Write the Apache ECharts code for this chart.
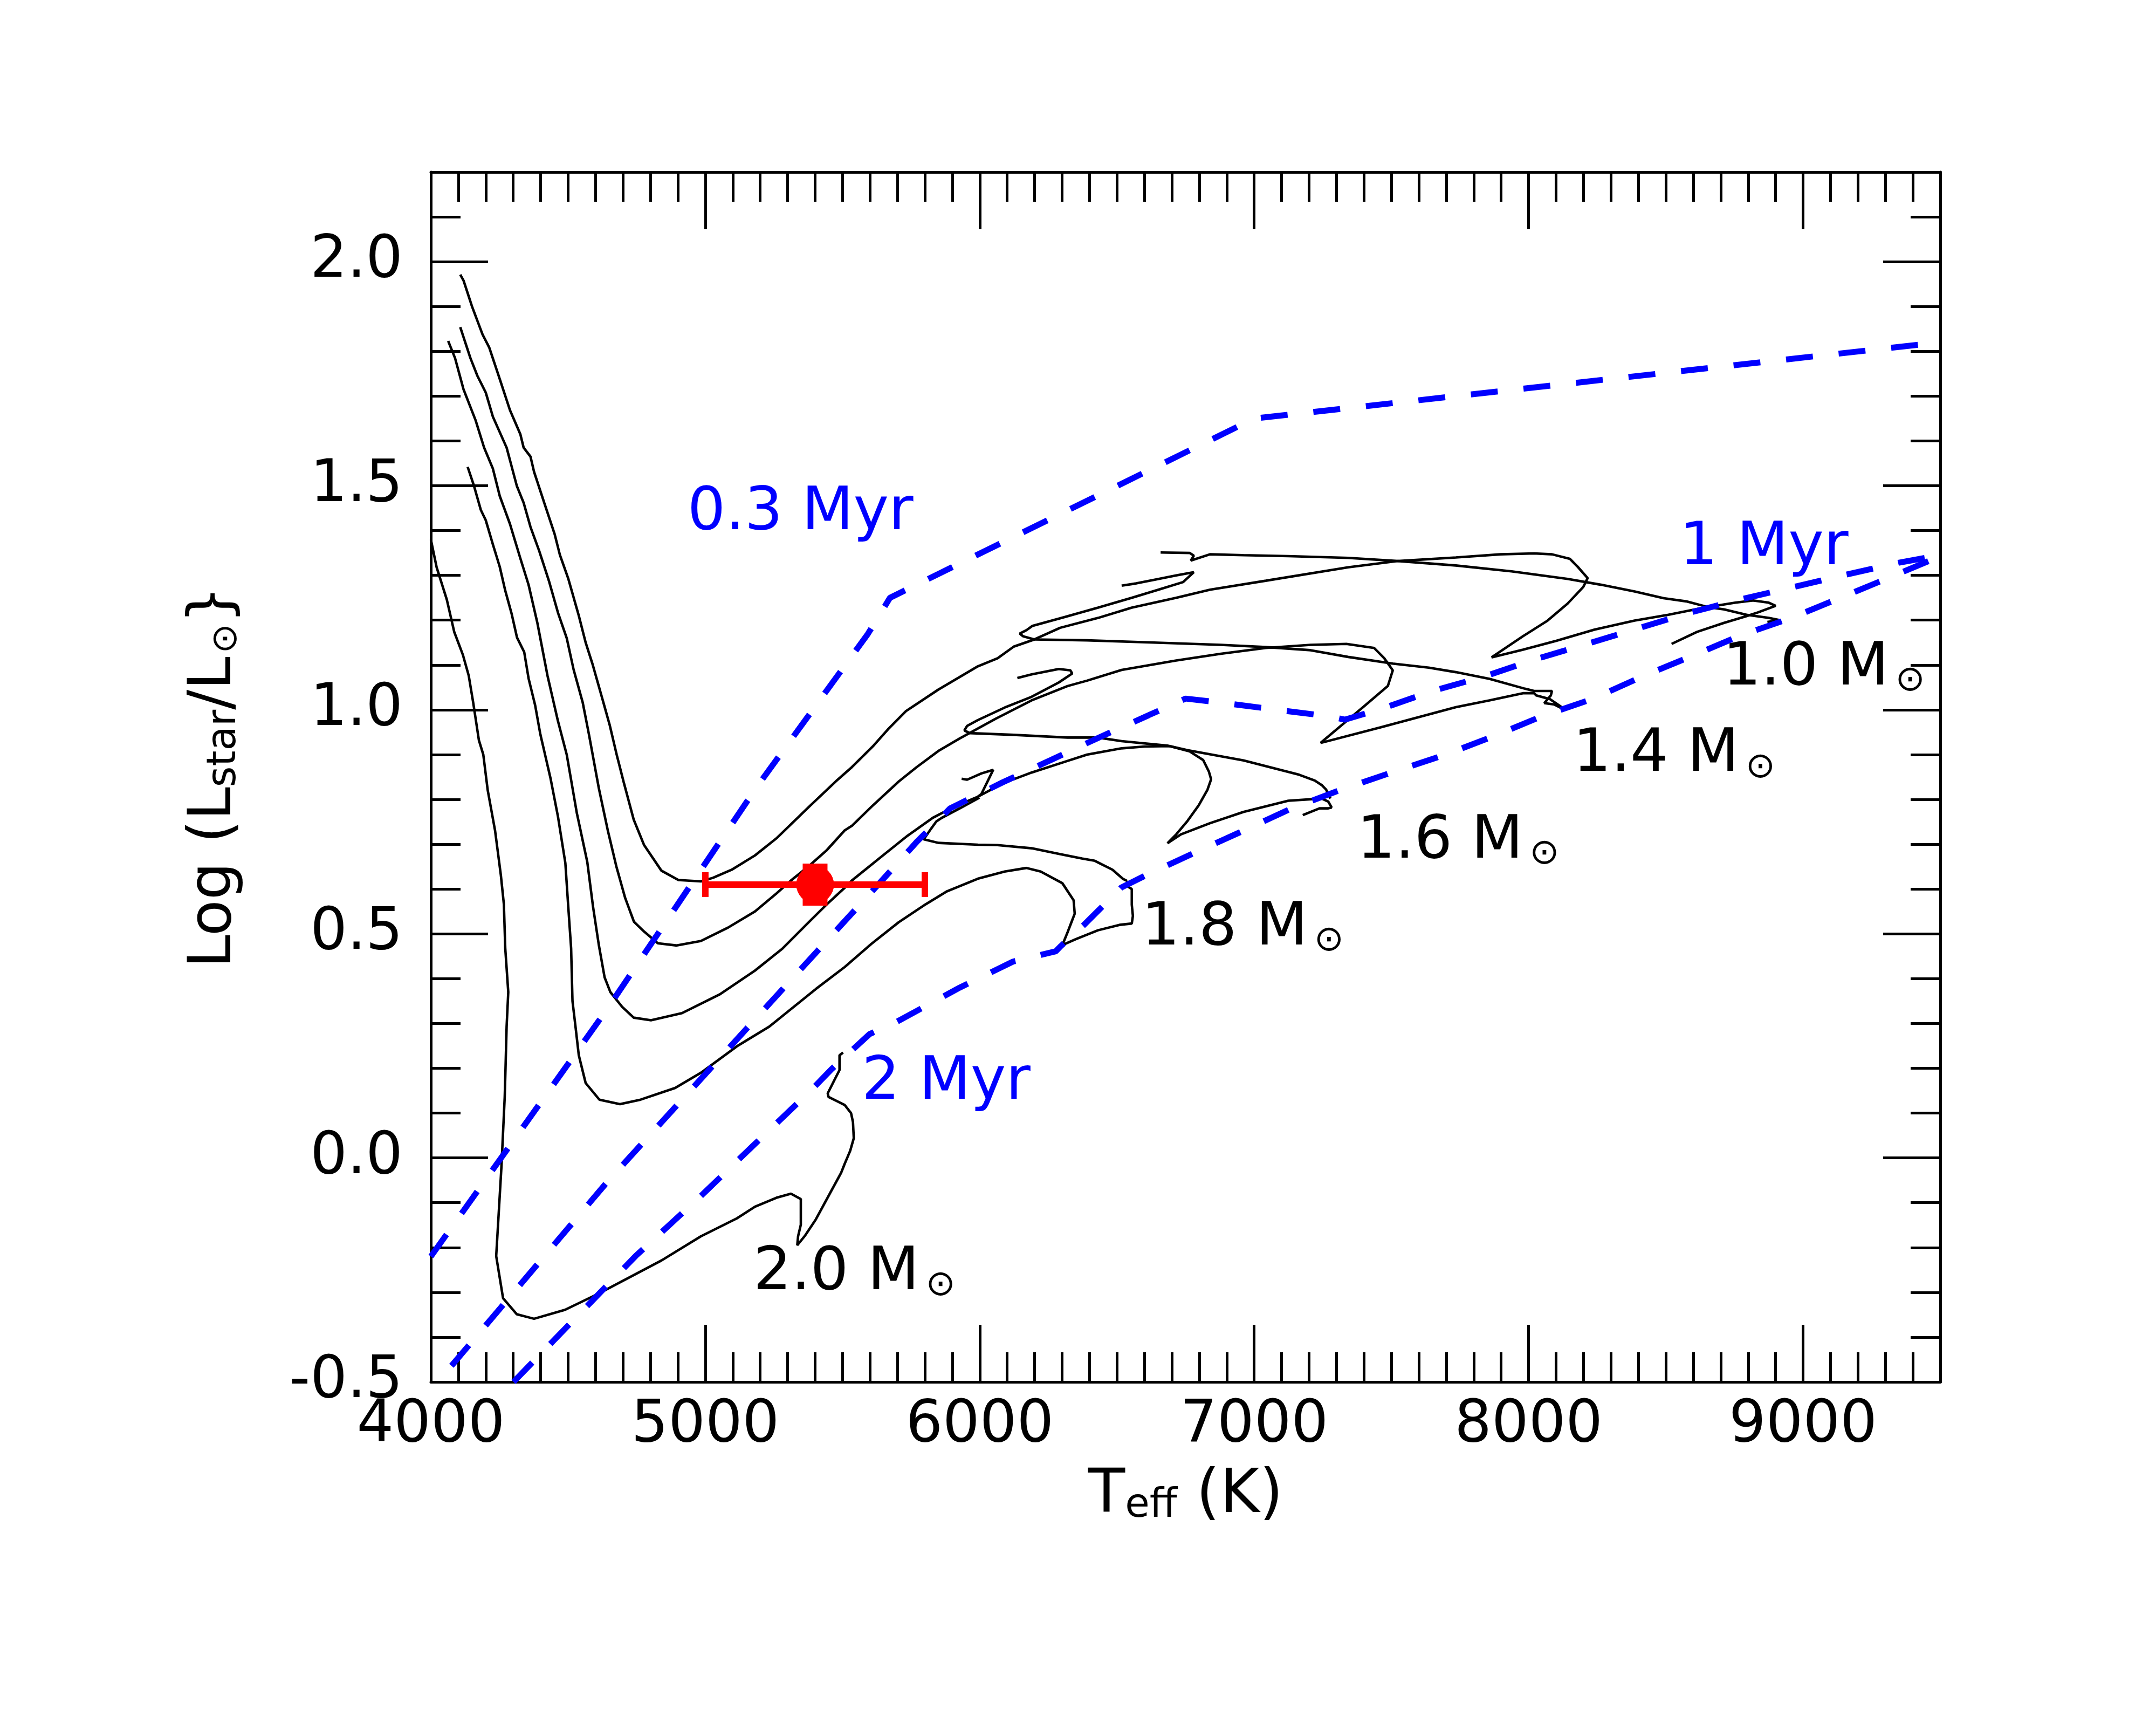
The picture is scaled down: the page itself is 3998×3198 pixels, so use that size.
<!DOCTYPE html>
<html>
<head>
<meta charset="utf-8">
<script src="https://cdn.jsdelivr.net/npm/echarts@6/dist/echarts.min.js"></script>
<style>
  html, body { margin: 0; padding: 0; background: #fff; }
  #chart { width: 3998px; height: 3198px; }
</style>
</head>
<body>
<div id="chart"></div>
<script>
// ---- data (Teff [K], log L/Lsun) ----

// 1.0 Msun track: Hayashi descent, rise, blue loop and end
const track10 = [
  [4107,1.971],[4119,1.958],[4150,1.900],[4188,1.838],[4213,1.808],[4251,1.738],[4288,1.669],
  [4326,1.615],[4338,1.585],[4363,1.565],[4376,1.531],[4413,1.462],[4451,1.392],[4470,1.346],
  [4501,1.292],[4539,1.210],[4564,1.150],[4590,1.100],[4627,1.020],[4652,0.965],[4677,0.900],
  [4702,0.840],[4739,0.755],[4777,0.698],[4840,0.641],[4902,0.620],[4984,0.617],[5028,0.625],
  [5096,0.643],[5181,0.675],[5259,0.713],[5377,0.783],[5475,0.840],[5534,0.872],[5613,0.920],
  [5665,0.956],[5731,0.997],[5849,1.045],[5993,1.097],[6065,1.115],[6124,1.141],[6199,1.157],
  [6293,1.183],[6431,1.205],[6554,1.228],[6716,1.250],[6839,1.268],[7042,1.288],[7342,1.318],
  [7524,1.332],[7735,1.340],[7898,1.347],[8020,1.349],[8085,1.347],[8150,1.337],[8179,1.319],
  [8215,1.294],[8199,1.274],[8142,1.237],[8069,1.199],[7979,1.164],[7865,1.117],[7979,1.134],
  [8101,1.154],[8240,1.179],[8386,1.199],[8509,1.212],[8631,1.227],[8753,1.239],[8818,1.244],
  [8875,1.239],[8900,1.232],[8834,1.217],[8794,1.209],[8712,1.194],[8614,1.174],[8521,1.147]
];
const track10Loop = [
  [6199,1.157],[6158,1.164],[6146,1.170],[6171,1.178],[6191,1.187],[6309,1.207],[6431,1.228],
  [6554,1.250],[6651,1.268],[6741,1.285],[6780,1.307],[6716,1.300],[6635,1.290],[6570,1.282],
  [6517,1.277]
];
const track10Link = [
  [6199,1.157],[6391,1.155],[6635,1.150],[6879,1.145],[7042,1.140],[7205,1.133],[7342,1.118],
  [7505,1.103],[7636,1.094],[7735,1.084],[7857,1.069],[7987,1.047],[8020,1.042],[8085,1.042],
  [8081,1.032],[8057,1.015],[8093,1.012],[8134,0.999]
];
const topLink = [
  [6659,1.351],[6765,1.350],[6780,1.344],[6769,1.333],[6839,1.347],[6961,1.345],[7124,1.343],
  [7342,1.339],[7524,1.332],[7735,1.322],[7938,1.309],[8142,1.292],[8264,1.279],[8386,1.264],
  [8492,1.249],[8574,1.242],[8655,1.229],[8712,1.224],[8794,1.212],[8875,1.205],[8916,1.200],
  [8870,1.196]
];

// 1.4 Msun track
const track14 = [
  [4107,1.854],[4144,1.785],[4169,1.746],[4200,1.708],[4226,1.654],[4276,1.585],[4313,1.500],
  [4338,1.462],[4363,1.408],[4395,1.354],[4431,1.286],[4464,1.215],[4495,1.160],[4520,1.090],
  [4553,1.017],[4576,0.945],[4612,0.825],[4645,0.730],[4676,0.650],[4708,0.580],[4740,0.527],
  [4777,0.505],[4827,0.479],[4896,0.474],[4984,0.484],[5083,0.514],[5181,0.550],[5259,0.590],
  [5312,0.619],[5377,0.651],[5443,0.687],[5508,0.731],[5534,0.741],[5606,0.784],[5705,0.840],
  [5770,0.872],[5849,0.908],[5927,0.936],[5963,0.948],[6058,0.980],[6189,1.021],[6320,1.053],
  [6391,1.065],[6517,1.089],[6716,1.110],[6879,1.125],[7042,1.138],[7205,1.145],[7336,1.147],
  [7437,1.138],[7474,1.115],[7505,1.088],[7487,1.053],[7399,1.007],[7242,0.926],[7462,0.961],
  [7735,1.006],[7857,1.021],[7979,1.037],[8020,1.037],[8028,1.032],[8077,1.024],[8118,1.007],
  [8134,0.999]
];
const track14Loop = [
  [5963,0.948],[5944,0.954],[5954,0.964],[5993,0.977],[6091,1.005],[6189,1.029],[6288,1.061],
  [6337,1.081],[6330,1.088],[6288,1.091],[6189,1.079],[6137,1.071]
];
const track14Link = [
  [5963,0.948],[6124,0.944],[6320,0.938],[6431,0.938],[6517,0.930],[6684,0.920],[6757,0.910],
  [6961,0.887],[7164,0.855],[7221,0.842],[7246,0.832],[7262,0.822],[7278,0.802]
];

// 1.6 Msun track
const track16 = [
  [4063,1.823],[4088,1.785],[4119,1.715],[4163,1.646],[4194,1.585],[4226,1.538],[4251,1.477],
  [4288,1.415],[4326,1.338],[4356,1.279],[4388,1.194],[4425,1.076],[4463,0.975],[4495,0.900],
  [4532,0.769],[4570,0.660],[4591,0.560],[4612,0.475],[4633,0.403],[4654,0.370],[4697,0.337],
  [4739,0.313],[4802,0.307],[4915,0.323],[5053,0.365],[5181,0.418],[5279,0.466],[5377,0.526],
  [5443,0.566],[5508,0.603],[5534,0.619],[5639,0.671],[5737,0.719],[5829,0.759],[5908,0.784],
  [5993,0.806],[6085,0.836],[6189,0.860],[6320,0.886],[6391,0.900],[6517,0.914],[6600,0.918],
  [6692,0.919],[6765,0.907],[6814,0.888],[6835,0.862],[6843,0.845],[6830,0.822],[6798,0.787],
  [6757,0.752],[6716,0.722],[6684,0.702],[6733,0.722],[6839,0.747],[6961,0.772],[7124,0.797],
  [7246,0.802],[7270,0.795],[7282,0.782],[7270,0.780],[7238,0.780],[7177,0.765]
];
const track16Loop = [
  [5993,0.806],[6006,0.812],[6049,0.866],[6006,0.858],[5954,0.844],[5934,0.846]
];
const track16Link = [
  [5999,0.804],[5927,0.780],[5862,0.759],[5842,0.751],[5823,0.735],[5796,0.711],[5849,0.703],
  [5993,0.699],[6065,0.698],[6189,0.691],[6293,0.678],[6374,0.668],[6419,0.663],[6484,0.643],
  [6521,0.623],[6537,0.618]
];

// 1.8 Msun track
const track18 = [
  [4134,1.542],[4157,1.500],[4182,1.446],[4200,1.423],[4226,1.369],[4251,1.319],[4271,1.266],
  [4294,1.215],[4314,1.161],[4340,1.129],[4356,1.070],[4380,1.010],[4399,0.945],[4436,0.847],
  [4463,0.762],[4490,0.658],[4500,0.566],[4511,0.468],[4516,0.350],[4527,0.293],[4539,0.229],
  [4564,0.167],[4614,0.130],[4689,0.120],[4764,0.130],[4890,0.156],[4984,0.190],[5115,0.249],
  [5233,0.293],[5403,0.377],[5508,0.426],[5606,0.478],[5705,0.526],[5803,0.566],[5881,0.595],
  [5993,0.623],[6091,0.639],[6170,0.647],[6222,0.639],[6301,0.613],[6342,0.575],[6346,0.545],
  [6321,0.505],[6301,0.475],[6350,0.488],[6431,0.508],[6509,0.520],[6554,0.523],[6558,0.540],
  [6554,0.565],[6554,0.600],[6541,0.605],[6537,0.618]
];

// 2.0 Msun track
const track20 = [
  [4000,1.380],[4021,1.318],[4058,1.246],[4085,1.174],[4117,1.122],[4138,1.076],[4154,1.017],
  [4175,0.932],[4191,0.900],[4207,0.821],[4234,0.730],[4255,0.631],[4266,0.566],[4271,0.468],
  [4282,0.370],[4276,0.293],[4272,0.200],[4269,0.135],[4257,-0.021],[4238,-0.219],[4263,-0.313],
  [4313,-0.349],[4376,-0.359],[4489,-0.339],[4614,-0.302],[4840,-0.229],[4984,-0.175],
  [5115,-0.135],[5181,-0.109],[5259,-0.089],[5312,-0.080],[5348,-0.092],[5348,-0.149],
  [5338,-0.175],[5335,-0.195],[5364,-0.173],[5403,-0.137],[5456,-0.077],[5495,-0.033],
  [5508,-0.013],[5528,0.016],[5541,0.044],[5538,0.080],[5531,0.100],[5508,0.118],[5482,0.126],
  [5449,0.136],[5446,0.144],[5469,0.172],[5489,0.196],[5489,0.229],[5502,0.235]
];

// isochrones
const iso03 = [[4000,-0.220],[4640,0.330],[5190,0.830],[5592,1.169],[5673,1.250],[7000,1.650],[9500,1.820]];
const iso1 = [
  [4075,-0.464],[4645,-0.052],[5303,0.391],[5633,0.612],[5770,0.705],[5892,0.780],
  [6083,0.838],[6259,0.888],[6434,0.938],[6616,0.988],[6750,1.025],[6892,1.015],[7083,1.000],
  [7278,0.985],[7330,0.978],[7468,1.003],[7650,1.042],[7837,1.074],[8025,1.113],[8213,1.147],
  [8401,1.182],[8589,1.217],[8777,1.247],[8965,1.274],[9153,1.301],[9347,1.328],[9500,1.345]
];
const iso2 = [
  [4301,-0.500],[4746,-0.219],[4984,-0.085],[5172,0.026],[5387,0.152],[5460,0.198],[5598,0.276],
  [5692,0.302],[5927,0.380],[6121,0.438],[6277,0.461],[6296,0.473],[6378,0.519],[6447,0.561],
  [6515,0.603],[6603,0.630],[6779,0.680],[6960,0.730],[7136,0.780],[7318,0.822],[7505,0.861],
  [7693,0.899],[7868,0.940],[8050,0.986],[8232,1.024],[8413,1.074],[8595,1.120],[8777,1.167],
  [8958,1.205],[9140,1.251],[9322,1.297],[9500,1.343]
];

// the star: Teff, log L, and Teff error range
const starPoint = [[5400, 0.61]];
const starTeffRange = [[5000, 5800]];

const massNames = ['1.0', '1.4', '1.6', '1.8', '2.0'];
const ageNames = ['0.3 Myr', '1 Myr', '2 Myr'];

// ---- chart ----
const FONT = 'DejaVu Sans';
const BLUE = '#0000ff';

// where the text annotations sit (Teff, log L of the left edge / middle)
const massSpots = [[8708, 1.091], [8162, 0.898], [7375, 0.705], [6590, 0.511], [5175, -0.258]];
const ageSpots = [[4935, 1.438], [8550, 1.360], [5570, 0.167]];

function trackSeries(points) {
  return {
    type: 'line', data: points, xAxisIndex: 0, yAxisIndex: 0,
    symbol: 'none', showSymbol: false, silent: true, z: 2,
    lineStyle: { color: '#000', width: 4.6, opacity: 1 }
  };
}
function isoSeries(points) {
  return {
    type: 'line', data: points, xAxisIndex: 0, yAxisIndex: 0,
    symbol: 'none', showSymbol: false, silent: true, z: 3,
    lineStyle: { color: BLUE, width: 11, type: [50, 48], cap: 'butt', opacity: 1 }
  };
}

const tickStyle = { color: '#000', width: 5 };
function xAx(pos, step, major) {
  return {
    type: 'value', position: pos, min: 4000, max: 9500, interval: step,
    axisLine: { show: major, onZero: false, lineStyle: tickStyle },
    axisTick: { show: true, inside: true, length: major ? 106 : 55, lineStyle: tickStyle },
    axisLabel: { show: false },
    splitLine: { show: false }
  };
}
function yAx(pos, step, major) {
  return {
    type: 'value', position: pos, min: -0.5, max: 2.2, interval: step,
    axisLine: { show: major, onZero: false, lineStyle: tickStyle },
    axisTick: { show: true, inside: true, length: major ? 106 : 55, lineStyle: tickStyle },
    axisLabel: { show: false },
    splitLine: { show: false }
  };
}

const xMain = xAx('bottom', 1000, true);
xMain.axisLabel = {
  show: true, margin: 28, fontFamily: FONT, fontSize: 108, color: '#000', lineHeight: 108,
  showMaxLabel: false,
  formatter: v => (v % 1000 === 0 && v < 9500) ? String(v) : ''
};
xMain.name = '{m|T}{s|eff}{m| (K)}';
xMain.nameLocation = 'middle';
xMain.nameGap = 156;
xMain.nameTextStyle = {
  fontFamily: FONT, fontSize: 112, color: '#000', lineHeight: 112,
  rich: {
    m: { fontFamily: FONT, fontSize: 112, color: '#000', lineHeight: 112 },
    s: { fontFamily: FONT, fontSize: 74, color: '#000', lineHeight: 20, verticalAlign: 'bottom' }
  }
};

const yMain = yAx('left', 0.5, true);
yMain.axisLabel = {
  show: true, margin: 52, fontFamily: FONT, fontSize: 108, color: '#000', lineHeight: 108,
  formatter: v => (v > 2.1) ? '' : v.toFixed(1)
};
yMain.name = 'Log (L{s|star}/L{o|⊙}}';
yMain.nameLocation = 'middle';
yMain.nameRotate = 90;
yMain.nameGap = 345;
yMain.nameTextStyle = {
  fontFamily: FONT, fontSize: 110, color: '#000', lineHeight: 112,
  rich: {
    s: { fontFamily: FONT, fontSize: 74, color: '#000', lineHeight: 20, verticalAlign: 'bottom' },
    o: { fontFamily: FONT, fontSize: 66, color: '#000', lineHeight: 20, verticalAlign: 'bottom', padding: [0, 0, 0, 6] }
  }
};

const labelData = [];
massNames.forEach((n, i) => labelData.push({ value: massSpots[i], name: '{m|' + n + ' M}{o|⊙}' }));
const ageData = ageNames.map((n, i) => ({ value: ageSpots[i], name: n }));

const option = {
  animation: false,
  backgroundColor: '#fff',
  grid: { left: 799, right: 400, top: 319, bottom: 636, containLabel: false },
  xAxis: [xMain, xAx('top', 1000, true), xAx('bottom', 100, false), xAx('top', 100, false)],
  yAxis: [yMain, yAx('right', 0.5, true), yAx('left', 0.1, false), yAx('right', 0.1, false)],
  series: [
    trackSeries(track10), trackSeries(track10Loop), trackSeries(track10Link), trackSeries(topLink),
    trackSeries(track14), trackSeries(track14Loop), trackSeries(track14Link),
    trackSeries(track16), trackSeries(track16Loop), trackSeries(track16Link),
    trackSeries(track18), trackSeries(track20),
    isoSeries(iso03), isoSeries(iso1), isoSeries(iso2),
    {
      type: 'custom', xAxisIndex: 0, yAxisIndex: 0, z: 5, silent: true,
      data: starPoint.map((p, i) => [p[0], p[1], starTeffRange[i][0], starTeffRange[i][1]]),
      renderItem: function (params, api) {
        const c = api.coord([api.value(0), api.value(1)]);
        const lo = api.coord([api.value(2), api.value(1)]);
        const hi = api.coord([api.value(3), api.value(1)]);
        const red = '#ff0000';
        return {
          type: 'group',
          children: [
            { type: 'line', shape: { x1: lo[0], y1: lo[1], x2: hi[0], y2: hi[1] }, style: { stroke: red, lineWidth: 12 } },
            { type: 'line', shape: { x1: lo[0], y1: lo[1] - 23, x2: lo[0], y2: lo[1] + 23 }, style: { stroke: red, lineWidth: 12 } },
            { type: 'line', shape: { x1: hi[0], y1: hi[1] - 23, x2: hi[0], y2: hi[1] + 23 }, style: { stroke: red, lineWidth: 12 } },
            { type: 'circle', shape: { cx: c[0], cy: c[1], r: 35 }, style: { fill: red } },
            { type: 'rect', shape: { x: c[0] - 23, y: c[1] - 39, width: 46, height: 78 }, style: { fill: red } }
          ]
        };
      }
    },
    {
      type: 'scatter', xAxisIndex: 0, yAxisIndex: 0, z: 6, silent: true,
      symbolSize: 0, data: labelData, itemStyle: { opacity: 1 },
      label: {
        show: true, position: 'right', distance: 0, opacity: 1,
        formatter: p => p.name,
        rich: {
          m: { fontFamily: FONT, fontSize: 111, color: '#000', opacity: 1, lineHeight: 112 },
          o: { fontFamily: FONT, fontSize: 66, color: '#000', opacity: 1, lineHeight: 20, verticalAlign: 'bottom', padding: [0, 0, 0, 12] }
        }
      }
    },
    {
      type: 'scatter', xAxisIndex: 0, yAxisIndex: 0, z: 6, silent: true,
      symbolSize: 0, data: ageData, itemStyle: { opacity: 1 },
      label: {
        show: true, position: 'right', distance: 0, opacity: 1,
        formatter: p => p.name,
        fontFamily: FONT, fontSize: 111, color: BLUE, lineHeight: 112
      }
    }
  ]
};

const chart = echarts.init(document.getElementById('chart'), null, { renderer: 'canvas' });
chart.setOption(option);
</script>
</body>
</html>
